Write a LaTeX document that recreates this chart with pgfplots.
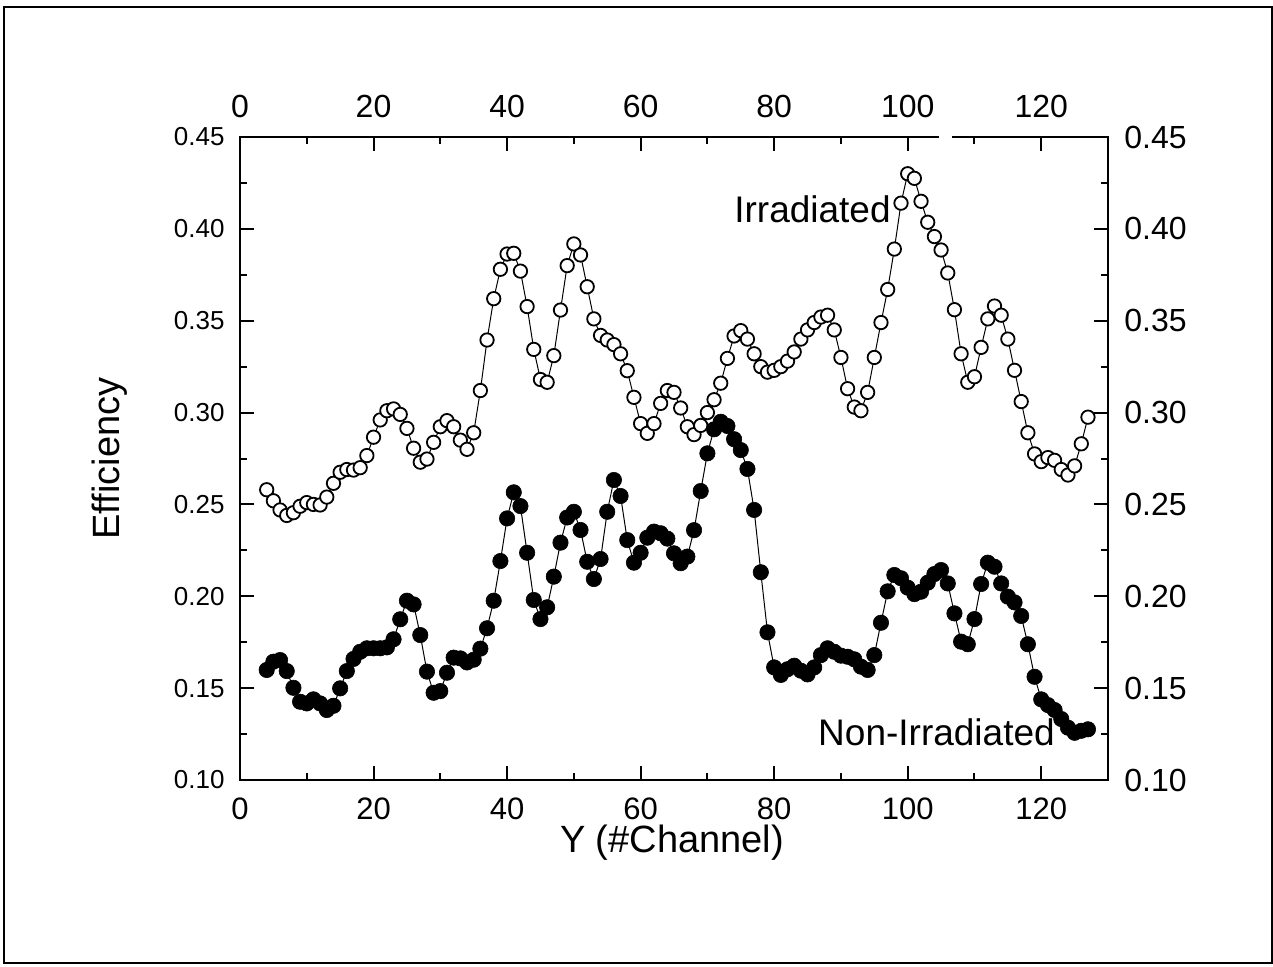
\documentclass[border=0pt]{standalone}
\usepackage{fontspec}
\setmainfont{Liberation Sans}
\usepackage{pgfplots}
\usepackage{pgfplotstable}
\pgfplotsset{compat=1.18}

\pgfplotstableread{
x y
4 0.258
5 0.252
6 0.247
7 0.244
8 0.2455
9 0.249
10 0.251
11 0.250
12 0.2497
13 0.254
14 0.2615
15 0.2675
16 0.269
17 0.2687
18 0.270
19 0.2766
20 0.2866
21 0.296
22 0.301
23 0.302
24 0.299
25 0.2914
26 0.2806
27 0.273
28 0.2747
29 0.2838
30 0.2923
31 0.2956
32 0.2923
33 0.285
34 0.280
35 0.289
36 0.312
37 0.3395
38 0.362
39 0.378
40 0.3863
41 0.3867
42 0.377
43 0.3577
44 0.3344
45 0.318
46 0.3165
47 0.331
48 0.3558
49 0.380
50 0.3918
51 0.3858
52 0.3685
53 0.351
54 0.342
55 0.3395
56 0.337
57 0.332
58 0.3228
59 0.3083
60 0.294
61 0.2887
62 0.294
63 0.305
64 0.312
65 0.311
66 0.3025
67 0.2923
68 0.288
69 0.293
70 0.300
71 0.307
72 0.316
73 0.3295
74 0.3417
75 0.3446
76 0.340
77 0.332
78 0.325
79 0.322
80 0.323
81 0.325
82 0.328
83 0.333
84 0.340
85 0.345
86 0.349
87 0.352
88 0.353
89 0.345
90 0.330
91 0.313
92 0.303
93 0.301
94 0.311
95 0.330
96 0.349
97 0.367
98 0.389
99 0.414
100 0.430
101 0.4275
102 0.415
103 0.4036
104 0.3958
105 0.3885
106 0.376
107 0.356
108 0.332
109 0.3165
110 0.3195
111 0.3355
112 0.351
113 0.358
114 0.353
115 0.340
116 0.323
117 0.306
118 0.289
119 0.2775
120 0.2733
121 0.2755
122 0.274
123 0.269
124 0.266
125 0.271
126 0.283
127 0.2975
}\irradiated

\pgfplotstableread{
x y
4 0.1599
5 0.1644
6 0.1653
7 0.1593
8 0.1502
9 0.1426
10 0.1417
11 0.1439
12 0.1417
13 0.1381
14 0.1404
15 0.1499
16 0.1593
17 0.1659
18 0.1698
19 0.1717
20 0.1717
21 0.1717
22 0.1722
23 0.1766
24 0.1875
25 0.1976
26 0.1956
27 0.1789
28 0.159
29 0.1475
30 0.1484
31 0.1584
32 0.1666
33 0.1662
34 0.164
35 0.1655
36 0.1715
37 0.1826
38 0.1976
39 0.2192
40 0.2424
41 0.2566
42 0.2491
43 0.2237
44 0.198
45 0.1876
46 0.194
47 0.2107
48 0.2292
49 0.2429
50 0.246
51 0.2361
52 0.2188
53 0.2094
54 0.2203
55 0.246
56 0.2633
57 0.2546
58 0.2306
59 0.2183
60 0.2237
61 0.2319
62 0.2352
63 0.2343
64 0.2314
65 0.2234
66 0.218
67 0.2216
68 0.236
69 0.2573
70 0.2778
71 0.2909
72 0.295
73 0.2927
74 0.2855
75 0.2796
76 0.2693
77 0.247
78 0.2131
79 0.1804
80 0.1613
81 0.1572
82 0.1603
83 0.1622
84 0.1595
85 0.1575
86 0.1613
87 0.168
88 0.1717
89 0.1698
90 0.1677
91 0.1671
92 0.1657
93 0.1617
94 0.1599
95 0.168
96 0.1856
97 0.2027
98 0.2116
99 0.2098
100 0.2047
101 0.2012
102 0.2025
103 0.2074
104 0.2121
105 0.2143
106 0.207
107 0.1907
108 0.1753
109 0.1739
110 0.1876
111 0.2067
112 0.2183
113 0.2161
114 0.207
115 0.1998
116 0.1967
117 0.1893
118 0.1739
119 0.1562
120 0.1439
121 0.1408
122 0.1381
123 0.1332
124 0.1285
125 0.1257
126 0.1268
127 0.1276
}\nonirradiated

\pgfplotsset{
  myframe/.style={
    at={(0,0)}, anchor=south west,
    scale only axis, width=434pt, height=321.5pt,
    xmin=0, xmax=130, ymin=0.10, ymax=0.45,
    xtick={0,20,40,60,80,100,120},
    ytick={0.10,0.15,0.20,0.25,0.30,0.35,0.40,0.45},
    /pgf/number format/assume math mode=true,
    yticklabel style={/pgf/number format/fixed, /pgf/number format/fixed zerofill, /pgf/number format/precision=2},
    axis line style={line width=1pt},
    tick style={line width=1pt, black},
    tick align=inside,
  }
}

\begin{document}
\begin{tikzpicture}[x=1pt,y=1pt]
\path[use as bounding box] (-120,-93) rectangle (516.5,390);
\draw[line width=1pt] (-118,-91.5) rectangle (516,386.5);

\begin{axis}[myframe,
  minor x tick num=1, minor y tick num=1,
  major tick length=7pt, minor tick length=3.5pt,
  xtick pos=both, ytick pos=both,
  xticklabel pos=left, yticklabel pos=left,
  yticklabel style={font=\fontsize{13}{13}\selectfont, inner xsep=7.5pt, inner ysep=0pt},
  xticklabel style={font=\fontsize{15.5}{15.5}\selectfont, inner ysep=8.5pt, inner xsep=0pt},
  xlabel={Y (\#Channel)}, ylabel={Efficiency},
  label style={font=\fontsize{19}{19}\selectfont},
  xlabel style={at={(axis description cs:0.4977,-0.097)}, anchor=center},
  ylabel style={at={(axis description cs:-0.1498,0.5)}, anchor=center},
]
\addplot[black, line width=0.5pt, mark=*, mark size=3.35pt,
  mark options={line width=0.9pt, fill=white, draw=black}] table[x=x,y=y] {\irradiated};
\addplot[black, line width=0.5pt, mark=*, mark size=3.85pt,
  mark options={line width=0.3pt, fill=black, draw=black}] table[x=x,y=y] {\nonirradiated};
\node[font=\fontsize{18.5}{18.5}\selectfont, anchor=base, inner sep=0pt] at (axis cs:85.74,0.4037) {Irradiated};
\node[font=\fontsize{18.5}{18.5}\selectfont, anchor=base, inner sep=0pt] at (axis cs:104.31,0.119) {Non-Irradiated};
\end{axis}

\begin{axis}[myframe,
  major tick length=0pt, minor tick num=0,
  xticklabel pos=right, yticklabel pos=right,
  yticklabel style={font=\fontsize{16}{16}\selectfont, inner xsep=8pt, inner ysep=0pt},
  xticklabel style={font=\fontsize{16}{16}\selectfont, inner ysep=9.5pt, inner xsep=0pt},
]
\end{axis}
\fill[white] (349.5,318) rectangle (355.8,325);
\end{tikzpicture}
\end{document}
